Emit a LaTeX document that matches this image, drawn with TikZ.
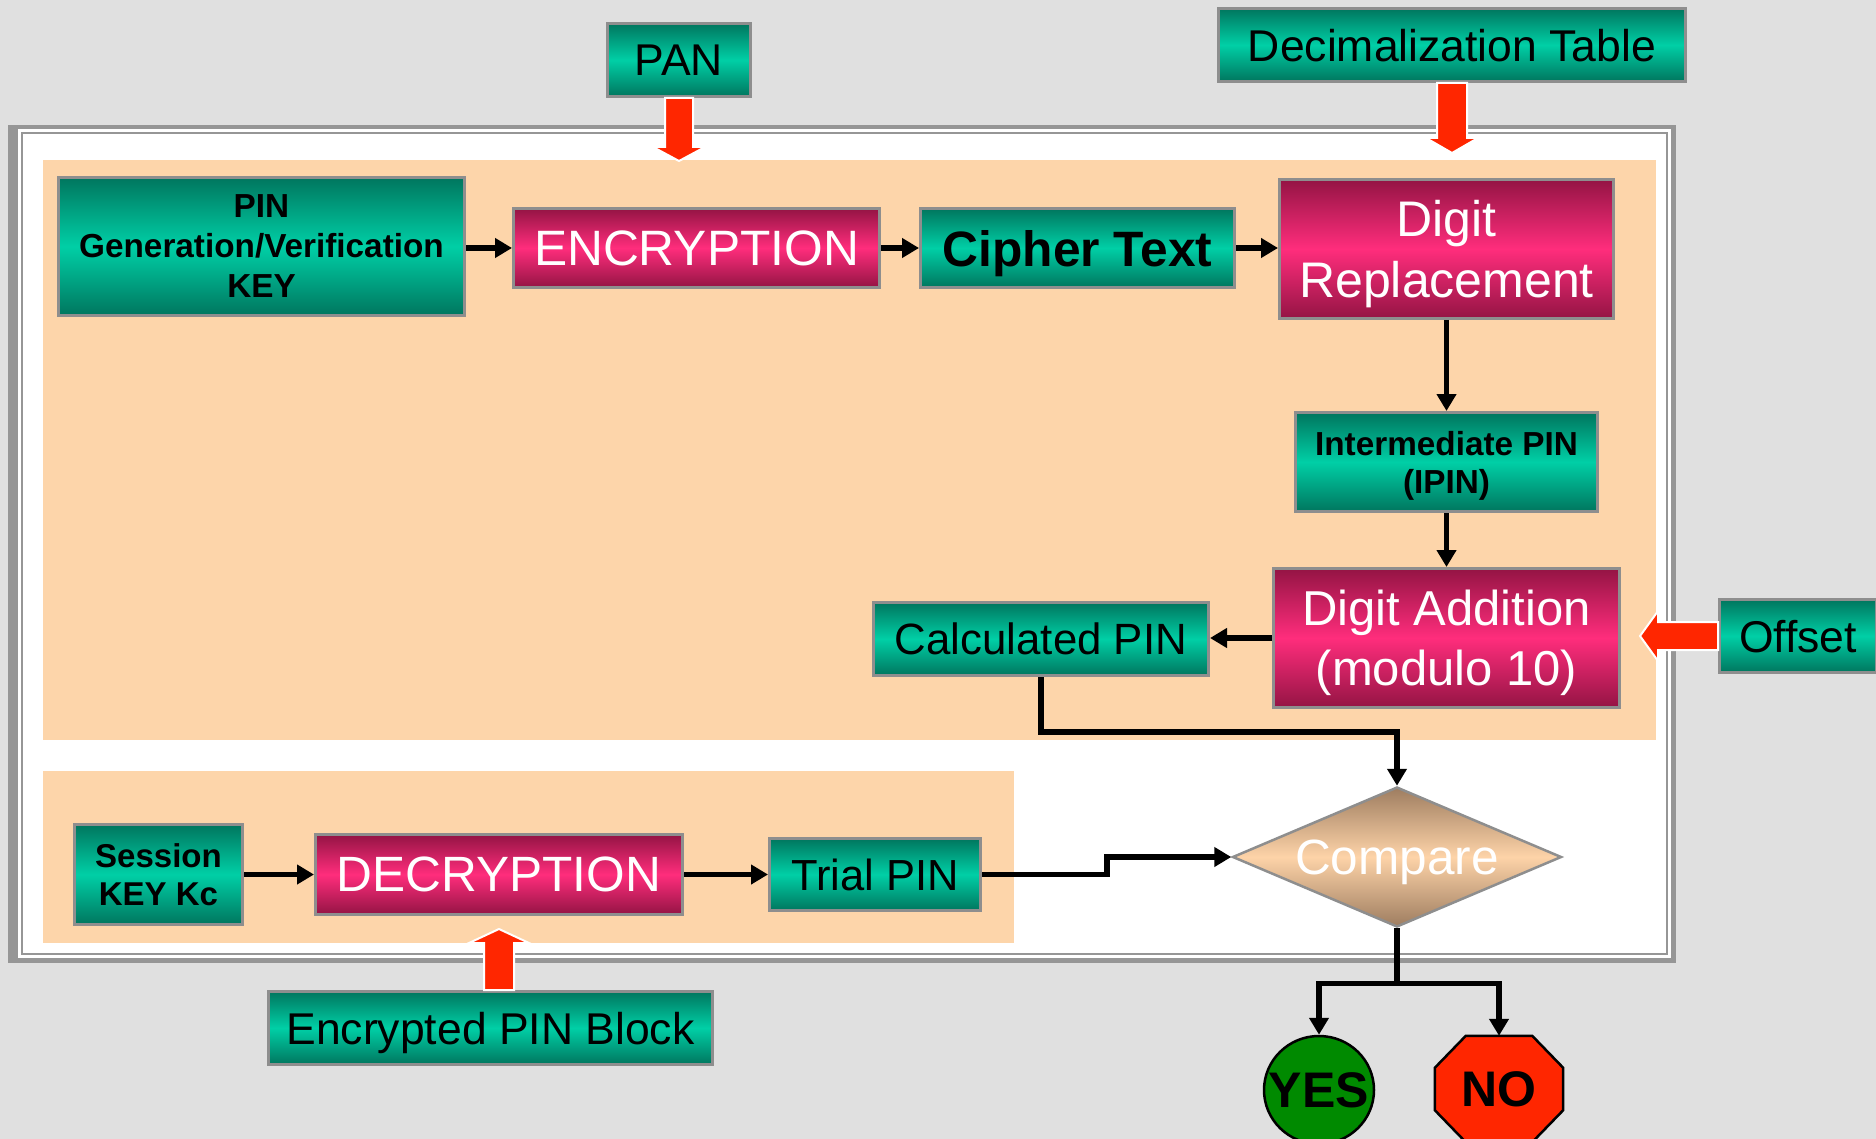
\documentclass[tikz,border=0pt]{standalone}
\usepackage{fontspec}
\setmainfont{Liberation Sans}
\usetikzlibrary{arrows.meta,shapes.geometric,calc}

\definecolor{bggray}{HTML}{E0E0E0}
\definecolor{framegray}{HTML}{969696}
\definecolor{peach}{HTML}{FDD5AA}
\definecolor{tealdark}{HTML}{00765E}
\definecolor{tealmid}{HTML}{00CFA6}
\definecolor{magdark}{HTML}{941444}
\definecolor{magmid}{HTML}{FF2D7C}
\definecolor{tandark}{HTML}{9E7D60}
\definecolor{tanmid}{HTML}{FDD3A8}
\definecolor{boxedge}{HTML}{8E8E8E}
\definecolor{arrowred}{HTML}{FF2600}
\definecolor{yesgreen}{HTML}{008A00}

\newcommand\fsz[2]{\fontsize{#1}{#2}\selectfont}

\pgfdeclarelayer{back}
\pgfdeclarelayer{mid}
\pgfsetlayers{back,mid,main}

\tikzset{
  box/.style={draw=boxedge, line width=3pt, inner sep=0pt, align=center, text depth=0pt},
  tealbox/.style={box, top color=tealdark, bottom color=tealdark, middle color=tealmid, text=black},
  magbox/.style={box, top color=magdark, bottom color=magdark, middle color=magmid, text=white},
  flow/.style={line width=5.5pt, line join=miter, -{Triangle[length=17pt,width=19pt]}},
  blockarrow/.style={fill=arrowred, draw=white, line width=2pt, line join=miter},
}

\begin{document}
\begin{tikzpicture}[x=1pt,y=-1pt]

% page, outer frame and the two panels
\begin{pgfonlayer}{back}
  \fill[bggray] (0,0) rectangle (1876,1139);
  \fill[framegray] (8,125) rectangle (1676,963);
  \fill[white] (18,129) rectangle (1671,958);
  \draw[framegray, line width=2pt, fill=white] (22,133) rectangle (1667,954);
  \fill[peach] (43,160) rectangle (1656,740);
  \fill[peach] (43,771) rectangle (1014,943);
\end{pgfonlayer}
\useasboundingbox (0,0) rectangle (1876,1139);

% inputs
\node[tealbox, minimum width=143, minimum height=73, font=\fsz{44.5}{50}] (pan) at (679,60) {PAN};
\node[tealbox, minimum width=467, minimum height=73, font=\fsz{44.5}{50}] (dect) at (1452,45) {Decimalization Table};
\node[tealbox, minimum width=157, minimum height=73, font=\fsz{44.5}{50}] (offset) at (1798,636) {Offset};
\node[tealbox, minimum width=444, minimum height=73, font=\fsz{44.5}{50}] (epb) at (490.5,1028) {Encrypted PIN Block};

% PIN calculation chain
\node[tealbox, minimum width=406, minimum height=138, font=\bfseries\fsz{33.3}{40}] (key) at (261.5,246.5)
  {PIN\\Generation/Verification\\KEY};
\node[magbox, minimum width=366, minimum height=79, font=\fsz{49.7}{56}] (enc) at (696.5,248) {ENCRYPTION};
\node[tealbox, minimum width=314, minimum height=79, font=\bfseries\fsz{49.7}{56}] (cipher) at (1077.5,248) {Cipher Text};
\node[magbox, minimum width=334, minimum height=139, font=\fsz{50}{61}] (drep) at (1446.5,249) {Digit\\Replacement};
\node[tealbox, minimum width=302, minimum height=99, font=\bfseries\fsz{33.3}{38}] (ipin) at (1446.5,462) {Intermediate PIN\\(IPIN)};
\node[magbox, minimum width=346, minimum height=139, font=\fsz{49}{60}] (dadd) at (1446.5,638) {Digit Addition\\(modulo 10)};
\node[tealbox, minimum width=335, minimum height=73, font=\fsz{43.8}{50}] (calc) at (1041,639) {Calculated PIN};

% trial PIN chain
\node[tealbox, minimum width=168, minimum height=100, font=\bfseries\fsz{33}{38}] (session) at (158.5,874.5) {Session\\KEY Kc};
\node[magbox, minimum width=367, minimum height=80, font=\fsz{49.6}{56}] (decr) at (499,874.5) {DECRYPTION};
\node[tealbox, minimum width=211, minimum height=72, font=\fsz{43.5}{50}] (trial) at (875,874.5) {Trial PIN};

% decision
\node[diamond, draw=boxedge, line width=2.5pt, inner sep=0pt, minimum width=329, minimum height=140, text depth=0pt,
      top color=tandark, bottom color=tandark, middle color=tanmid, text=white, font=\fsz{49.5}{56}]
  (compare) at (1397,857) {\makebox[0pt]{Compare}};
\node[ellipse, draw=black, line width=2.5pt, fill=yesgreen, inner sep=0pt, minimum width=110, minimum height=108,
      font=\bfseries\fsz{50}{56}] (yes) at (1319,1090) {\makebox[0pt]{YES}};
\node[inner sep=0pt, minimum width=128, minimum height=106, font=\bfseries\fsz{50}{56}] (no) at (1499,1089) {NO};
\begin{pgfonlayer}{mid}
  \draw[fill=arrowred, line width=2.5pt, line join=miter]
    ($(no.north west)+(31,0)$) -- ($(no.north east)+(-31,0)$) -- ($(no.north east)+(0,32)$)
    -- ($(no.south east)+(0,-32)$) -- ($(no.south east)+(-31,0)$) -- ($(no.south west)+(31,0)$)
    -- ($(no.south west)+(0,-32)$) -- ($(no.north west)+(0,32)$) -- cycle;
\end{pgfonlayer}

% red input arrows
\draw[blockarrow] (pan.south) ++(-14,0) -- ++(0,49) -- ++(-12,0) -- ++(26,14) -- ++(26,-14)
  -- ++(-12,0) -- ++(0,-49) -- cycle;
\draw[blockarrow] (dect.south) ++(-15,0) -- ++(0,55) -- ++(-11,0) -- ++(26,15) -- ++(26,-15)
  -- ++(-11,0) -- ++(0,-55) -- cycle;
\draw[blockarrow] (offset.west) ++(0,-14) -- ++(-60,0) -- ++(0,-11) -- ++(-18,25) -- ++(18,25)
  -- ++(0,-11) -- ++(60,0) -- cycle;
\draw[blockarrow] (decr.south |- epb.north) ++(-15,0) -- ++(0,-47) -- ++(-15,0) -- ++(30,-14)
  -- ++(30,14) -- ++(-15,0) -- ++(0,47) -- cycle;

% flow connectors
\draw[flow] (key.east |- enc.west) -- (enc.west);
\draw[flow] (enc) -- (cipher);
\draw[flow] (cipher.east) -- (cipher.east -| drep.west);
\draw[flow] (drep) -- (ipin);
\draw[flow] (ipin) -- (dadd);
\draw[flow] (dadd.west) -- (dadd.west -| calc.east);
\draw[flow] (calc.south) -- ++(0,55) -| (compare.north);
\draw[flow] (session) -- (decr);
\draw[flow] (decr) -- (trial);
\draw[flow] (trial.east) -- ++(125,0) |- (compare.west);
\draw[line width=5.5pt] (compare.south) -- ++(0,55) coordinate (split);
\draw[flow] ($(split)+(2.75,0)$) -| (yes.north);
\draw[flow] ($(split)+(-2.75,0)$) -| (no.north);

\end{tikzpicture}
\end{document}
